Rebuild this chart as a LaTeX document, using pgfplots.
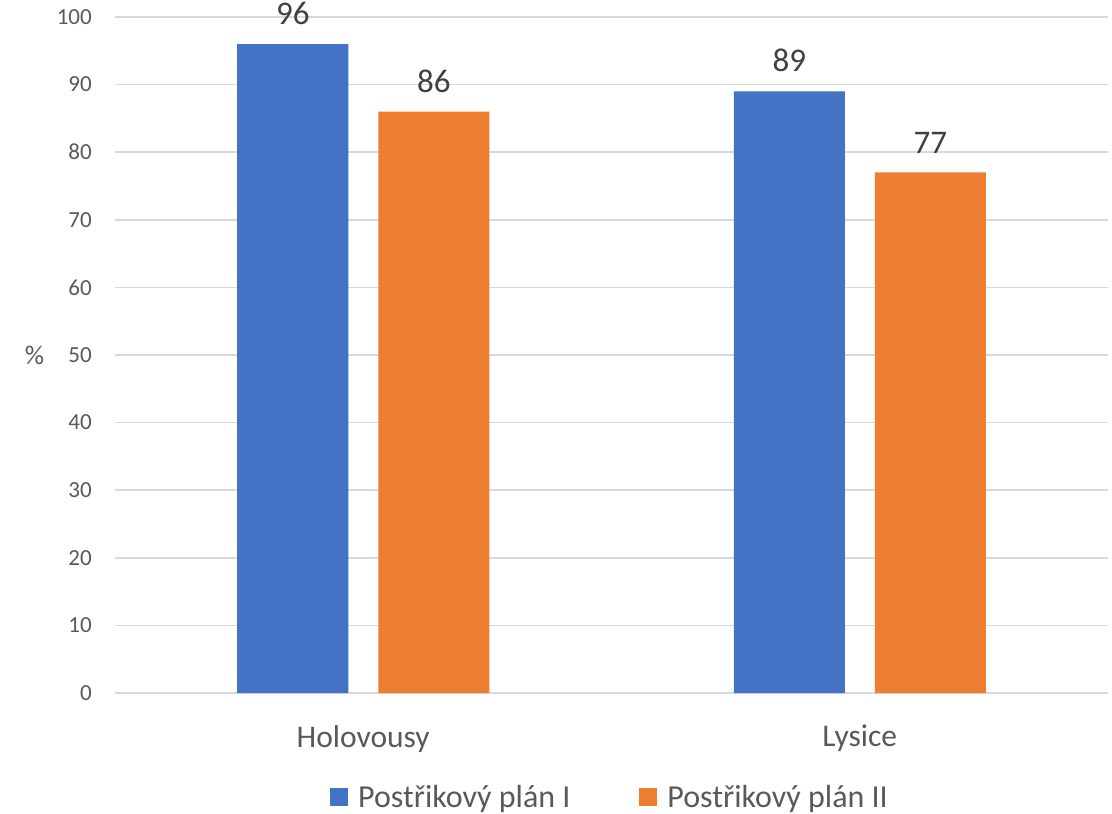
\documentclass[border=0pt]{standalone}
\usepackage{pgfplots}
\pgfplotsset{compat=1.18}
\usepackage{fontspec}
\setmainfont{Carlito}
\definecolor{planI}{HTML}{4472C4}
\definecolor{planII}{HTML}{ED7D31}
\definecolor{gridgray}{HTML}{D9D9D9}
\definecolor{ticktext}{HTML}{595959}
\definecolor{valtext}{HTML}{404040}
\begin{document}
\begin{tikzpicture}
\useasboundingbox (-115pt,-121pt) rectangle (997pt,693pt);
\begin{axis}[
  at={(0pt,0pt)}, anchor=south west,
  scale only axis, width=993pt, height=676pt,
  clip=false,
  ybar, bar width=111pt,
  xmin=-0.5, xmax=1.5, ymin=0, ymax=100,
  xtick={0,1}, xticklabels={Holovousy,Lysice},
  ytick={0,10,...,100},
  ymajorgrids, grid style={draw=gridgray, line width=1.7pt},
  axis x line*=bottom, axis y line*=left,
  x axis line style={draw=gridgray, line width=1.7pt, -},
  y axis line style={draw=none},
  major tick length=0pt,
  /pgf/number format/assume math mode=true,
  yticklabel style={font=\fontsize{23}{27}\selectfont, text=ticktext, inner sep=0pt, anchor=east, xshift=-23pt},
  xticklabel style={font=\fontsize{31.5}{37}\selectfont, text=ticktext, inner sep=0pt, anchor=north, yshift=-32pt},
  ylabel={\%},
  every axis y label/.style={at={(axis description cs:-0.081,0.5)}, anchor=center, font=\fontsize{27}{32}\selectfont, text=ticktext},
  nodes near coords,
  every node near coord/.append style={font=\fontsize{33}{39}\selectfont, text=valtext, inner sep=0pt, anchor=south, yshift=19pt},
  legend style={at={(axis description cs:0.4985,-0.154)}, anchor=center, draw=none, fill=none,
    font=\fontsize{32}{38}\selectfont, text=ticktext, legend columns=2,
    /tikz/every even column/.append style={column sep=67pt},
    inner sep=0pt},
  legend image code/.code={\fill[#1] (0pt,-9pt) rectangle (18pt,9pt);},
]
\addplot[fill=planI, draw=none, bar shift=-70.5pt] coordinates {(0,96) (1,89)};
\addplot[fill=planII, draw=none, bar shift=70.5pt] coordinates {(0,86) (1,77)};
\legend{\hspace{8pt}Postřikový plán I, \hspace{8pt}Postřikový plán II}
\end{axis}
\end{tikzpicture}
\end{document}
